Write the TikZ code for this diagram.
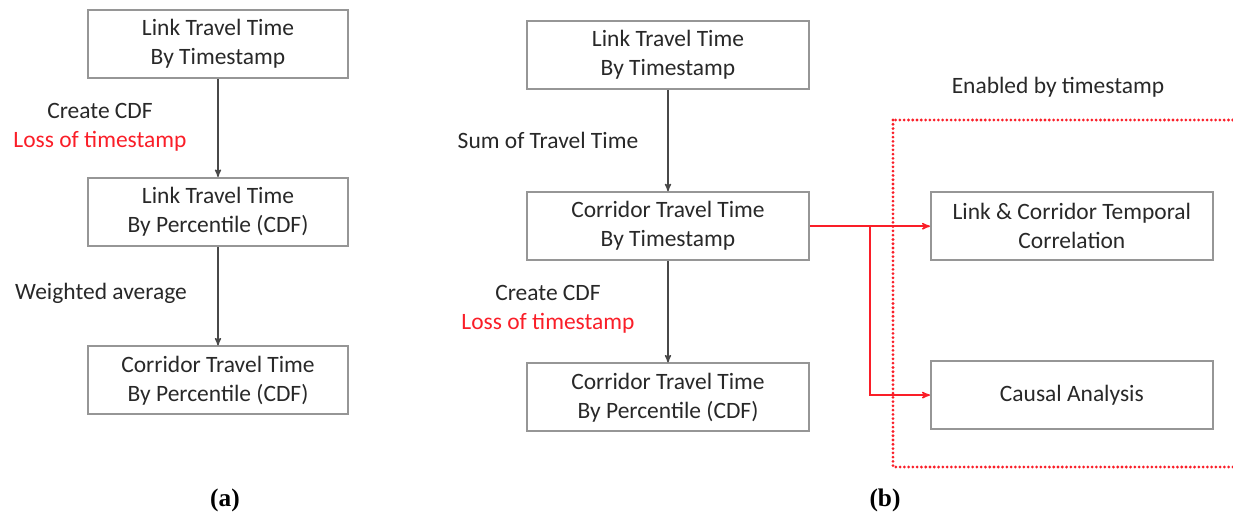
\documentclass[tikz,border=0pt]{standalone}
\usepackage{fontspec}
\setmainfont{Carlito}
\newfontfamily\capfont{Liberation Serif}
\usepackage{tikz}
\usetikzlibrary{arrows,positioning}

\definecolor{boxgray}{RGB}{150,150,150}
\definecolor{txtgray}{RGB}{40,40,40}
\definecolor{linkred}{RGB}{250,30,40}

\begin{document}
\begin{tikzpicture}[x=0.75pt,y=-0.75pt,->,>=stealth',
				every node/.style={text=txtgray,font=\fontsize{17.6}{21.8}\selectfont},
				main node/.style={rectangle,draw=boxgray,line width=1.4pt,align=center,
					minimum width=195pt,minimum height=51pt,inner sep=0pt},
				wide node/.style={main node,minimum width=211.5pt},
				step label/.style={align=center},
				flow/.style={draw=txtgray!85,line width=1pt},
				red flow/.style={draw=linkred,line width=1.1pt}]
				
				\useasboundingbox (0,0) rectangle (1233,519);
				
				% (a)
				\node[main node] (a1) at (218,44) {Link Travel Time\\By Timestamp};
				\node[main node] (a2) [below=73.5pt of a1] {Link Travel Time\\By Percentile (CDF)};
				\node[main node] (a3) [below=74pt of a2] {Corridor Travel Time\\By Percentile (CDF)};
				
				\node[step label] (la1) at (100,127) {Create CDF\\\textcolor{linkred}{Loss of timestamp}};
				\node[step label] (la2) at (101,293) {Weighted average};
				
				\draw[flow] (a1) -- (a2);
				\draw[flow] (a2) -- (a3);
				
				% (b)
				\node[wide node] (b1) at (668,55) {Link Travel Time\\By Timestamp};
				\node[wide node] (b2) [below=76pt of b1] {Corridor Travel Time\\By Timestamp};
				\node[wide node] (b3) [below=76pt of b2] {Corridor Travel Time\\By Percentile (CDF)};
				
				\node[step label] (lb1) at (548,140) {Sum of Travel Time};
				\node[step label] (lb2) at (548,309.5) {Create CDF\\\textcolor{linkred}{Loss of timestamp}};
				
				\draw[flow] (b1) -- (b2);
				\draw[flow] (b2) -- (b3);
				
				\node[wide node] (c1) [right=90pt of b2] {Link \& Corridor Temporal\\Correlation};
				\node[wide node] (c2) [below=74.25pt of c1] {Causal Analysis};
				
				\node (enab) at (1058,87) {Enabled by timestamp};
				\draw[-,draw=linkred,line width=2.3pt,line cap=round,dash pattern=on 0pt off 3.2pt]
				(893,120) rectangle (1262,467);
				
				\coordinate (fork) at ([xshift=45pt]b2.east);
				\draw[red flow] (b2.east) -- (c1.west);
				\draw[red flow] (fork) |- (c2.west);
				
				\node[font=\capfont\bfseries\fontsize{19}{22}\selectfont,text=black] (capa) at (225,500) {(a)};
				\node[font=\capfont\bfseries\fontsize{19}{22}\selectfont,text=black] (capb) at (885,500) {(b)};
				
\end{tikzpicture}
\end{document}
